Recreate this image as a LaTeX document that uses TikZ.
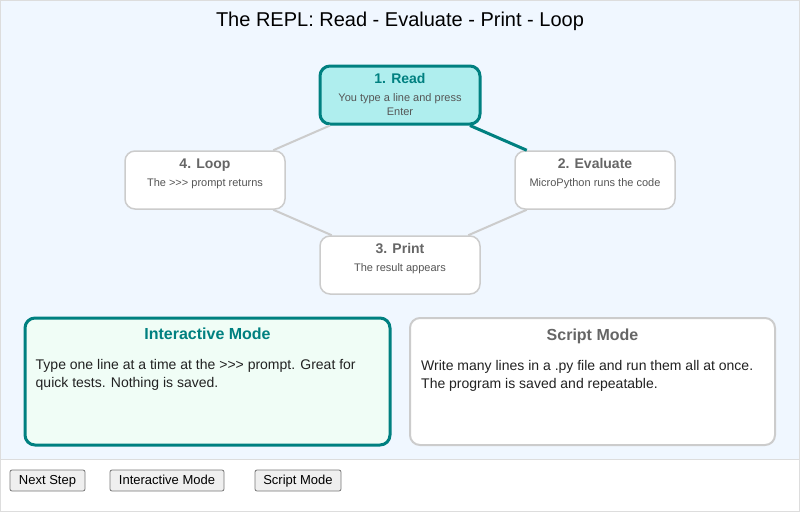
\documentclass[tikz,border=0pt]{standalone}
\usepackage{fontspec}
\setmainfont{Liberation Sans}
\usetikzlibrary{positioning}

\definecolor{pageblue}{RGB}{240,247,255}
\definecolor{frame}{RGB}{221,221,221}
\definecolor{tealc}{RGB}{0,128,128}
\definecolor{readfill}{RGB}{175,238,238}
\definecolor{boxgray}{RGB}{204,204,204}
\definecolor{titlegray}{RGB}{102,102,102}
\definecolor{subgray}{RGB}{85,85,85}
\definecolor{mintfill}{RGB}{240,253,246}
\definecolor{bodyc}{RGB}{34,34,34}
\definecolor{btnfill}{RGB}{239,239,239}
\definecolor{btnline}{RGB}{118,118,118}

\newcommand{\prompt}{>{}>{}>}

\tikzset{
  stage/.style={rectangle, rounded corners=10pt, draw=boxgray, line width=1.5pt, fill=white,
    minimum width=160pt, minimum height=58pt, inner sep=0pt},
  stageon/.style={stage, draw=tealc, line width=3pt, fill=readfill},
  stagetitle/.style={inner sep=0pt, text height=10pt, text depth=0pt, text=titlegray,
    font=\bfseries\fontsize{14}{16}\selectfont},
  stagesub/.style={inner sep=0pt, align=center, text=subgray,
    font=\fontsize{11}{14}\selectfont},
  link/.style={draw=boxgray, line width=2pt},
  linkon/.style={draw=tealc, line width=3pt},
  panel/.style={rectangle, rounded corners=10pt, draw=boxgray, line width=2pt, fill=white,
    minimum width=365pt, minimum height=127pt, inner sep=0pt},
  panelon/.style={panel, draw=tealc, line width=3pt, fill=mintfill},
  paneltitle/.style={inner sep=0pt, text height=11.5pt, text depth=0pt, text=titlegray,
    font=\bfseries\fontsize{16}{18}\selectfont},
  panelbody/.style={inner sep=0pt, align=left, text=bodyc,
    font=\fontsize{14}{18}\selectfont},
  button/.style={rectangle, rounded corners=2pt, draw=btnline, line width=0.8pt, fill=btnfill,
    minimum height=21pt, inner sep=0pt, text height=9.5pt, text depth=2.5pt,
    font=\fontsize{13}{15}\selectfont}
}

\begin{document}
\begin{tikzpicture}[x=1pt,y=-1pt]
  \useasboundingbox (0,0) rectangle (800,512);

  % page
  \fill[pageblue] (0,0) rectangle (800,459.5);
  \draw[frame, line width=1pt] (0.5,0.5) rectangle (799.5,511.5);
  \draw[frame, line width=1.5pt] (0,459.5) -- (800,459.5);

  \node (title) at (400,21) {\fontsize{20}{24}\selectfont The REPL: Read - Evaluate - Print - Loop};

  % the four steps
  \node[stageon] (read) at (400,95) {};
  \node[stage] (eval) at (595,180) {};
  \node[stage] (print) at (400,265) {};
  \node[stage] (loop) at (205,180) {};

  \draw[linkon] (read) -- (eval);
  \draw[link] (eval) -- (print);
  \draw[link] (print) -- (loop);
  \draw[link] (loop) -- (read);

  \node[stagetitle, text=tealc, below=8.5pt of read.north] (read-t) {1. Read};
  \node[stagesub, below=9.5pt of read-t] (read-s) {You type a line and press\\Enter};
  \node[stagetitle, below=8.5pt of eval.north] (eval-t) {2. Evaluate};
  \node[stagesub, below=9.5pt of eval-t] (eval-s) {MicroPython runs the code};
  \node[stagetitle, below=8.5pt of print.north] (print-t) {3. Print};
  \node[stagesub, below=9.5pt of print-t] (print-s) {The result appears};
  \node[stagetitle, below=8.5pt of loop.north] (loop-t) {4. Loop};
  \node[stagesub, below=9.5pt of loop-t] (loop-s) {The \prompt{} prompt returns};

  % the two modes
  \node[panelon] (imode) at (207.5,381.5) {};
  \node[paneltitle, text=tealc, below=11.5pt of imode.north] (imode-t) {Interactive Mode};
  \node[panelbody, below right=43pt and 12pt of imode.north west] (imode-b)
    {Type one line at a time at the \prompt{} prompt. Great for\\quick tests. Nothing is saved.};

  \node[panel] (smode) at (592.5,381.5) {};
  \node[paneltitle, below=11.5pt of smode.north] (smode-t) {Script Mode};
  \node[panelbody, below right=43pt and 12pt of smode.north west] (smode-b)
    {Write many lines in a .py file and run them all at once.\\The program is saved and repeatable.};

  % buttons
  \node[button, minimum width=75pt] (next) at (47.5,480.5) {Next Step};
  \node[button, minimum width=114pt] (ibtn) at (167,480.5) {Interactive Mode};
  \node[button, minimum width=86pt] (sbtn) at (298,480.5) {Script Mode};
\end{tikzpicture}
\end{document}
